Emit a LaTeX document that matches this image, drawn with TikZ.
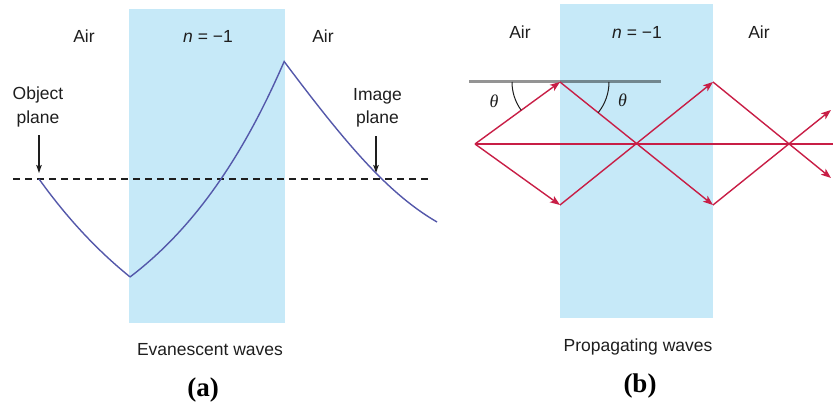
\documentclass[tikz,border=0pt]{standalone}
\usepackage{fontspec}
\setmainfont{Liberation Sans}
\newfontfamily\capserif{Liberation Serif}
\usetikzlibrary{arrows.meta}
\definecolor{slabblue}{RGB}{198,233,248}
\definecolor{wavecol}{RGB}{84,88,170}
\definecolor{raycol}{RGB}{200,30,70}
\definecolor{txtcol}{RGB}{30,30,30}
\tikzset{
  lbl/.style={text=txtcol, font=\fontsize{17.5}{20}\selectfont, inner sep=0pt, anchor=base},
  figcap/.style={text=black, font=\capserif\bfseries\fontsize{27}{30}\selectfont, inner sep=0pt, anchor=base},
  thetalbl/.style={text=txtcol, font=\capserif\itshape\fontsize{18}{20}\selectfont, inner sep=0pt},
  slabfill/.style={fill=slabblue, draw=none},
  wave/.style={draw=wavecol, line width=1.4pt, line join=round},
  planeline/.style={draw=txtcol, line width=1.1pt, dash pattern=on 6.5pt off 5.5pt},
  pointer/.style={draw=txtcol, line width=1.1pt, -{Stealth[length=8pt,width=5.5pt,inset=1.5pt]}},
  ray/.style={draw=raycol, line width=1.4pt},
  rayarrow/.style={ray, -{Stealth[length=10pt,width=7.5pt,inset=2.5pt]}},
  surface/.style={draw=black, draw opacity=0.42, line width=2.2pt},
  anglearc/.style={draw=txtcol, line width=1pt},
}
\begin{document}
\begin{tikzpicture}[x=1pt,y=-1pt]
\useasboundingbox (0,0) rectangle (833,404);
% ---------- panel (a) ----------
\fill[slabfill] (129,9) rectangle (285,323);
\node[lbl] (airA1) at (84,43) {Air};
\node[lbl] (nA) at (208,43) {\textit{n} = −1};
\node[lbl] (airA2) at (323,43) {Air};
\node[lbl] (objA) at (38,99.5) {Object};
\node[lbl] (objB) at (38,124) {plane};
\node[lbl] (imgA) at (377.5,100) {Image};
\node[lbl] (imgB) at (377.5,123.5) {plane};
\coordinate (dl) at (13,179);
\coordinate (dr) at (428,179);
\draw[planeline] (dl) -- (dr);
\coordinate (objtop) at (39,135);
\coordinate (objtip) at (39,173);
\coordinate (imgtop) at (376,136);
\coordinate (imgtip) at (376,173);
\draw[pointer] (objtop) -- (objtip);
\draw[pointer] (imgtop) -- (imgtip);
\coordinate (w0) at (39,179);
\coordinate (w1) at (130,277);
\coordinate (w2) at (284.5,62);
\coordinate (w3) at (437,222);
\draw[wave] plot[domain=39:130, samples=40, variable=\t] ({\t},{179+232.8*(1-exp(-0.006*(\t-39)))});
\draw[wave] plot[domain=130:284.5, samples=60, variable=\t] ({\t},{277-105.9*(exp(0.0072*(\t-130))-1)});
\draw[wave] (w2) .. controls (344.5,141.8) and (387,193) .. (w3);
\node[lbl] (capA) at (210,355) {Evanescent waves};
\node[figcap] (labA) at (203,396) {(a)};
% ---------- panel (b) ----------
\fill[slabfill] (560,4) rectangle (713,318);
\node[lbl] (airB1) at (520,39) {Air};
\node[lbl] (nB) at (637,39) {\textit{n} = −1};
\node[lbl] (airB2) at (759,39) {Air};
\coordinate (gl) at (469,81.5);
\coordinate (gr) at (661,81.5);
\draw[surface] (gl) -- (gr);
\coordinate (S) at (475,144);
\coordinate (A) at (560,82);
\coordinate (B) at (560,205);
\coordinate (C) at (713,82);
\coordinate (D) at (713,205);
\coordinate (E) at (833,144);
\coordinate (F) at (831,110);
\coordinate (G) at (831,178);
\draw[ray] (S) -- (E);
\draw[rayarrow] (S) -- (A);
\draw[rayarrow] (S) -- (B);
\draw[rayarrow] (A) -- (D);
\draw[rayarrow] (B) -- (C);
\draw[rayarrow] (D) -- (F);
\draw[rayarrow] (C) -- (G);
\draw[anglearc] ([shift={(180:48)}]A) arc[start angle=180, end angle=144, radius=48];
\draw[anglearc] ([shift={(0:49)}]A) arc[start angle=0, end angle=38.8, radius=49];
\node[thetalbl] (th1) at (494,101.5) {θ};
\node[thetalbl] (th2) at (622.5,100) {θ};
\node[lbl] (capB) at (638,351.7) {Propagating waves};
\node[figcap] (labB) at (640,392) {(b)};
\end{tikzpicture}
\end{document}
